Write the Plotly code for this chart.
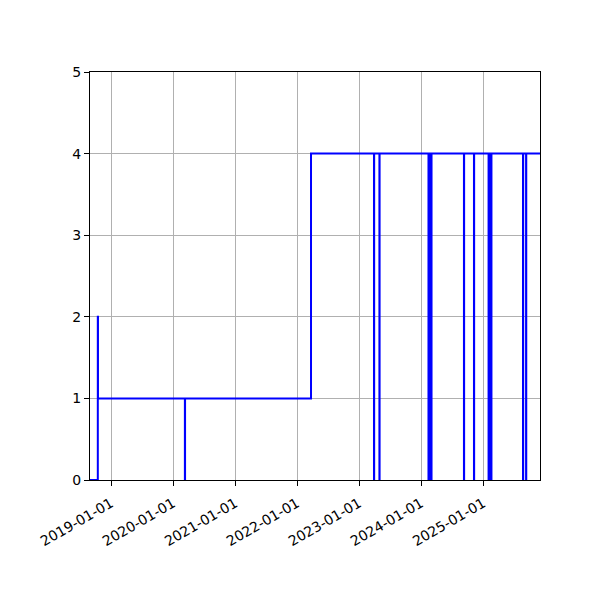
import plotly.graph_objects as go

# step series: value holds until the next date (steps-post)
dates = [
    '2018-08-30', '2018-10-15', '2018-10-16', '2020-03-11', '2020-03-12',
    '2022-03-24', '2023-03-30', '2023-03-31', '2023-05-01', '2023-05-02',
    '2024-02-14', '2024-02-20', '2024-02-21', '2024-02-27', '2024-02-28',
    '2024-03-03', '2024-09-10', '2024-09-11', '2024-11-08', '2024-11-09',
    '2025-02-02', '2025-02-08', '2025-02-09', '2025-02-14', '2025-02-15',
    '2025-02-19', '2025-08-24', '2025-08-25', '2025-09-11', '2025-09-12',
    '2025-12-31',
]
values = [
    0, 2, 1, 0, 1,
    4, 0, 4, 0, 4,
    0, 4, 0, 4, 0,
    4, 0, 4, 0, 4,
    0, 4, 0, 4, 0,
    4, 0, 4, 0, 4,
    4,
]

x_range = ['2018-08-30', '2025-12-02']
y_range = [0, 5]

fig = go.Figure()
fig.add_trace(go.Scatter(
    x=dates, y=values, mode='lines',
    line=dict(color='#0000ff', width=2, shape='hv'),
    showlegend=False,
))

axis_style = dict(
    showline=True, linecolor='black', linewidth=1, mirror=True,
    ticks='outside', ticklen=5, tickcolor='black',
    showgrid=True, gridcolor='#b0b0b0', gridwidth=1,
    zeroline=False, automargin=False,
    tickfont=dict(size=14, color='black'),
)

fig.update_xaxes(range=x_range, tickformat='%Y-%m-%d', dtick='M12',
                 tick0='2019-01-01', tickangle=-30, ticklabelstandoff=4,
                 **axis_style)
fig.update_yaxes(range=y_range, dtick=1, tick0=0, **axis_style)

# page body adds ~8px offset, margins compensate for it
fig.update_layout(
    width=600, height=600,
    margin=dict(l=82, r=68, t=64, b=128),
    paper_bgcolor='white', plot_bgcolor='white',
    font=dict(family='DejaVu Sans', size=14, color='black'),
)

fig.write_html("out.html")
